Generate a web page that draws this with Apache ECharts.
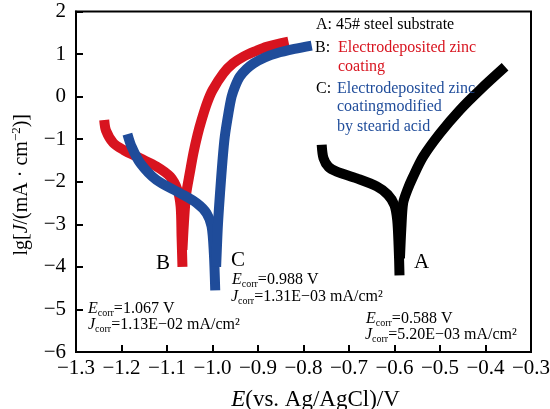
<!DOCTYPE html>
<html>
<head>
<meta charset="utf-8">
<script src="https://cdn.jsdelivr.net/npm/echarts@6/dist/echarts.min.js"></script>
<style>html,body{margin:0;padding:0;background:#fff}#c{width:550px;height:409px}</style>
</head>
<body>
<div id="c"></div>
<script>
// ---- data (E in V, lg J) ----
const xTicks = [-1.3, -1.2, -1.1, -1.0, -0.9, -0.8, -0.7, -0.6, -0.5, -0.4, -0.3];
const yTicks = [-6, -5, -4, -3, -2, -1, 0, 1, 2];

const bCathodic = [[-1.238,-0.55],[-1.234,-0.80],[-1.218,-1.09],[-1.196,-1.25],[-1.159,-1.45],[-1.123,-1.64],[-1.093,-1.88],[-1.077,-2.19],[-1.070,-2.58],[-1.068,-3.28],[-1.066,-4.0]];
const bAnodic = [[-1.066,-3.6],[-1.063,-3.0],[-1.058,-2.3],[-1.050,-1.8],[-1.042,-1.33],[-1.033,-0.9],[-1.024,-0.55],[-1.012,-0.15],[-1.000,0.15],[-0.976,0.55],[-0.955,0.78],[-0.932,0.94],[-0.905,1.07],[-0.881,1.17],[-0.833,1.29]];

const cCathodic = [[-1.187,-0.88],[-1.178,-1.17],[-1.159,-1.56],[-1.123,-1.96],[-1.071,-2.27],[-1.035,-2.50],[-1.013,-2.74],[-1.002,-3.05],[-0.997,-3.68],[-0.994,-4.55]];
const cAnodic = [[-0.992,-4.0],[-0.988,-3.0],[-0.983,-2.2],[-0.978,-1.5],[-0.973,-0.94],[-0.965,-0.39],[-0.958,0.0],[-0.950,0.25],[-0.940,0.47],[-0.925,0.65],[-0.910,0.78],[-0.885,0.92],[-0.859,1.02],[-0.820,1.12],[-0.782,1.20]];

const aCathodic = [[-0.760,-1.13],[-0.756,-1.45],[-0.745,-1.65],[-0.727,-1.76],[-0.683,-1.92],[-0.639,-2.11],[-0.615,-2.30],[-0.600,-2.55],[-0.594,-2.9],[-0.591,-3.5],[-0.589,-4.2]];
const aAnodic = [[-0.588,-3.8],[-0.585,-3.1],[-0.581,-2.50],[-0.572,-2.2],[-0.560,-1.9],[-0.537,-1.41],[-0.500,-0.86],[-0.456,-0.31],[-0.412,0.16],[-0.357,0.70]];

const legendLines = ['A: 45# steel substrate', 'Electrodeposited zinc', 'coating', 'Electrodeposited zinc', 'coatingmodified', 'by stearid acid'];
const ecorrTexts = ['1.067 V', '0.988 V', '0.588 V'];
const jcorrTexts = ['1.13E\u221202 mA/cm\u00b2', '1.31E\u221203 mA/cm\u00b2', '5.20E\u221203 mA/cm\u00b2'];

const RED = '#d8141f', BLUE = '#1f4c9a', BLACK = '#000';
const FONT = '"Liberation Serif", "Times New Roman", serif';

function curve(data, color, z) {
  return {
    type: 'line', data: data, smooth: 0.3, showSymbol: false, symbol: 'none', z: z,
    lineStyle: { color: color, width: 10, cap: 'butt', join: 'round' },
    animation: false
  };
}

const chart = echarts.init(document.getElementById('c'), null, { renderer: 'canvas' });

const richSub = {
  i: { fontFamily: FONT, fontStyle: 'italic', fontSize: 16, lineHeight: 18, color: '#000' },
  s: { fontFamily: FONT, fontSize: 10, lineHeight: 9, verticalAlign: 'bottom', color: '#000' },
  n: { fontFamily: FONT, fontSize: 16, lineHeight: 18, color: '#000' }
};

function corrText(x, y, sym, val) {
  return {
    type: 'text', left: x, top: y, z: 100,
    style: { text: '{i|' + sym + '}{s|corr}{n|=' + val + '}', rich: richSub, font: '16px ' + FONT, fill: '#000' }
  };
}
function plainText(x, y, txt, color, size) {
  return {
    type: 'text', left: x, top: y, z: 100,
    style: { text: txt, font: (size || 16) + 'px ' + FONT, fill: color }
  };
}

chart.setOption({
  animation: false,
  backgroundColor: '#fff',
  grid: { left: 76, right: 19, top: 11.5, bottom: 57, outerBoundsMode: 'none', containLabel: false, show: true, borderColor: '#000', borderWidth: 2, backgroundColor: 'transparent' },
  xAxis: {
    type: 'value', min: xTicks[0], max: xTicks[xTicks.length - 1], interval: 0.1,
    axisLine: { onZero: false, lineStyle: { color: '#000', width: 2 } },
    axisTick: { inside: true, length: 7, lineStyle: { color: '#000', width: 2 } },
    splitLine: { show: false },
    axisLabel: { color: '#000', fontFamily: FONT, fontSize: 21, margin: 6,
      formatter: v => (Math.round(v * 10) / 10).toFixed(1).replace('-', '\u2212') },
    name: '{i|E}{n|(vs. Ag/AgCl)/V}', nameLocation: 'middle', nameGap: 36,
    nameTextStyle: { padding: [0, 0, 0, 24], rich: {
      i: { fontFamily: FONT, fontStyle: 'italic', fontSize: 23, color: '#000' },
      n: { fontFamily: FONT, fontSize: 23, color: '#000' } } }
  },
  yAxis: {
    type: 'value', min: yTicks[0], max: yTicks[yTicks.length - 1], interval: 1,
    axisLine: { onZero: false, lineStyle: { color: '#000', width: 2 } },
    axisTick: { inside: true, length: 7, lineStyle: { color: '#000', width: 2 } },
    splitLine: { show: false },
    axisLabel: { color: '#000', fontFamily: FONT, fontSize: 21, margin: 10,
      formatter: v => String(v).replace('-', '\u2212') },
    name: '{n|lg[}{i|J}{n|/(mA \u00b7 cm}{p|\u22122}{n|)]}', nameLocation: 'middle', nameGap: 43, nameRotate: 90,
    nameTextStyle: { padding: [0, 6, 0, 0], rich: {
      i: { fontFamily: FONT, fontStyle: 'italic', fontSize: 20, lineHeight: 23, color: '#000' },
      n: { fontFamily: FONT, fontSize: 20, lineHeight: 23, color: '#000' },
      p: { fontFamily: FONT, fontSize: 13, lineHeight: 13, verticalAlign: 'top', color: '#000' } } }
  },
  series: [
    curve(aCathodic, BLACK, 2), curve(aAnodic, BLACK, 2),
    curve(bCathodic, RED, 3), curve(bAnodic, RED, 3),
    curve(cCathodic, BLUE, 4), curve(cAnodic, BLUE, 4)
  ],
  graphic: [
    plainText(316, 17, legendLines[0], '#000'),
    plainText(315, 40, 'B:', '#000'),
    plainText(338, 40, legendLines[1], RED),
    plainText(338, 59, legendLines[2], RED),
    plainText(316, 81, 'C:', '#000'),
    plainText(337, 81, legendLines[3], BLUE),
    plainText(337, 99, legendLines[4], BLUE),
    plainText(337, 119, legendLines[5], BLUE),
    plainText(156, 253, 'B', '#000', 21),
    plainText(231, 250, 'C', '#000', 21),
    plainText(414, 252, 'A', '#000', 21),
    corrText(232, 272, 'E', ecorrTexts[1]),
    corrText(231, 289, 'J', jcorrTexts[1]),
    corrText(88, 301, 'E', ecorrTexts[0]),
    corrText(88, 317, 'J', jcorrTexts[0]),
    corrText(366, 311, 'E', ecorrTexts[2]),
    corrText(365, 327, 'J', jcorrTexts[2])
  ]
});
</script>
</body>
</html>
